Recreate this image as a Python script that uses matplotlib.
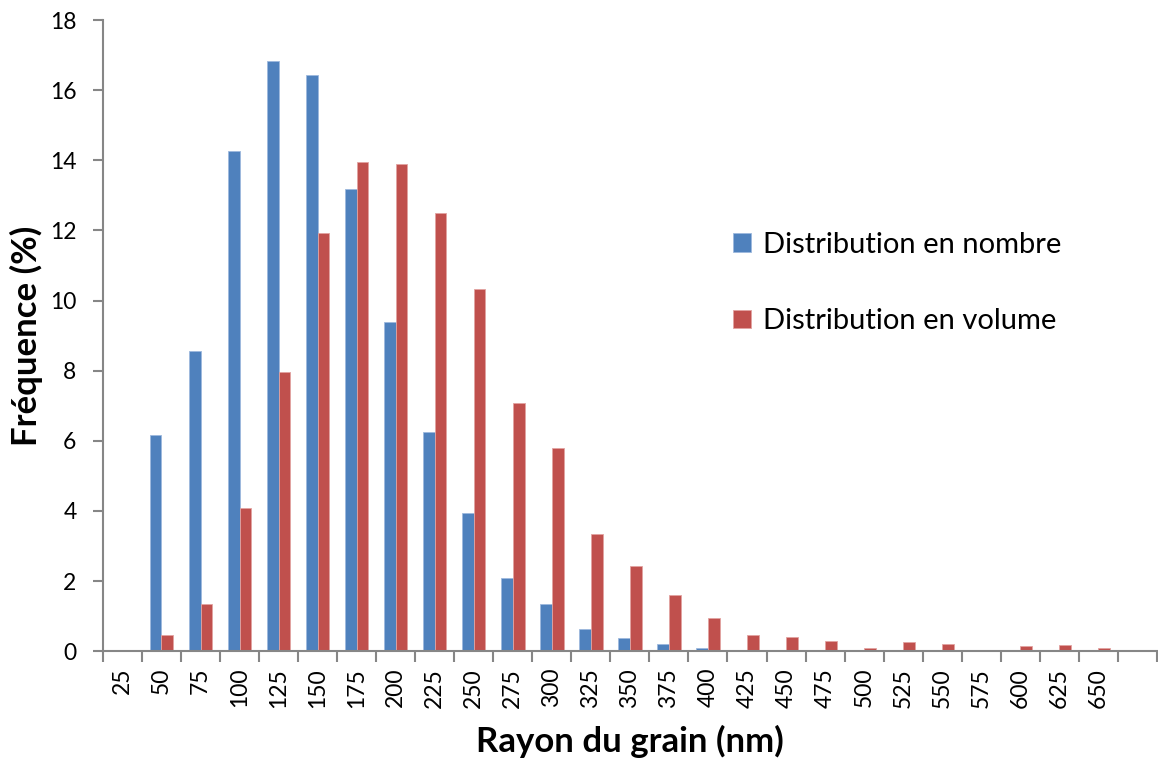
import numpy as np
import matplotlib.pyplot as plt
from matplotlib.ticker import FixedLocator

# Rayon du grain (nm) - la derniere categorie est vide
rayons = ['25', '50', '75', '100', '125', '150', '175', '200', '225', '250',
          '275', '300', '325', '350', '375', '400', '425', '450', '475', '500',
          '525', '550', '575', '600', '625', '650', '']

# Frequences (%)
nombre = [0, 6.16, 8.56, 14.27, 16.83, 16.44, 13.19, 9.40, 6.26, 3.94,
          2.10, 1.36, 0.63, 0.37, 0.21, 0.09, 0.04, 0.03, 0.01, 0,
          0, 0, 0, 0, 0, 0, 0]
volume = [0, 0.46, 1.34, 4.08, 7.97, 11.94, 13.96, 13.89, 12.49, 10.32,
          7.08, 5.81, 3.33, 2.43, 1.61, 0.94, 0.46, 0.41, 0.30, 0.08,
          0.25, 0.22, 0, 0.14, 0.17, 0.08, 0]

plt.rcParams['font.family'] = ['Lato', 'DejaVu Sans']

fig = plt.figure(figsize=(11.58, 7.61), dpi=100)
ax = fig.add_axes([0.0889, 0.1442, 0.9101, 0.8295])

x = np.arange(len(rayons))
w = 0.3
b1 = ax.bar(x - w / 2, nombre, w, color='#4F81BD', edgecolor='#9DB9DE',
            linewidth=0.6, label='Distribution en nombre')
b2 = ax.bar(x + w / 2, volume, w, color='#C0504D', edgecolor='#E2A3A1',
            linewidth=0.6, label='Distribution en volume')

ax.set_xlim(-0.5, len(rayons) - 0.5)
ax.set_ylim(0, 18)
ax.set_yticks(np.arange(0, 19, 2))

# etiquettes au centre, graduations entre categories
ax.set_xticks(x)
ax.set_xticklabels(rayons, rotation=90, fontsize=16.5)
ax.xaxis.set_minor_locator(FixedLocator(np.arange(-0.5, len(rayons), 1)))
ax.tick_params(axis='x', which='major', length=0, pad=12)
ax.tick_params(axis='x', which='minor', length=8, width=1.5, color='#868686')
ax.tick_params(axis='y', length=7, width=1.5, color='#868686', labelsize=16.5, pad=12)

for s in ['top', 'right']:
    ax.spines[s].set_visible(False)
for s in ['left', 'bottom']:
    ax.spines[s].set_color('#868686')
    ax.spines[s].set_linewidth(1.5)

ax.set_xlabel('Rayon du grain (nm)', fontsize=25, fontweight='bold')
ax.set_ylabel('Fréquence (%)', fontsize=25, fontweight='bold')
ax.xaxis.set_label_coords(0.5, -0.117)
ax.yaxis.set_label_coords(-0.057, 0.5)

ax.legend(loc='upper left', bbox_to_anchor=(0.598, 0.664), frameon=False,
          fontsize=21, handlelength=0.62, handleheight=0.62, handletextpad=0.4,
          labelspacing=1.72, borderpad=0, borderaxespad=0)

fig.savefig('out.png', dpi=100)
